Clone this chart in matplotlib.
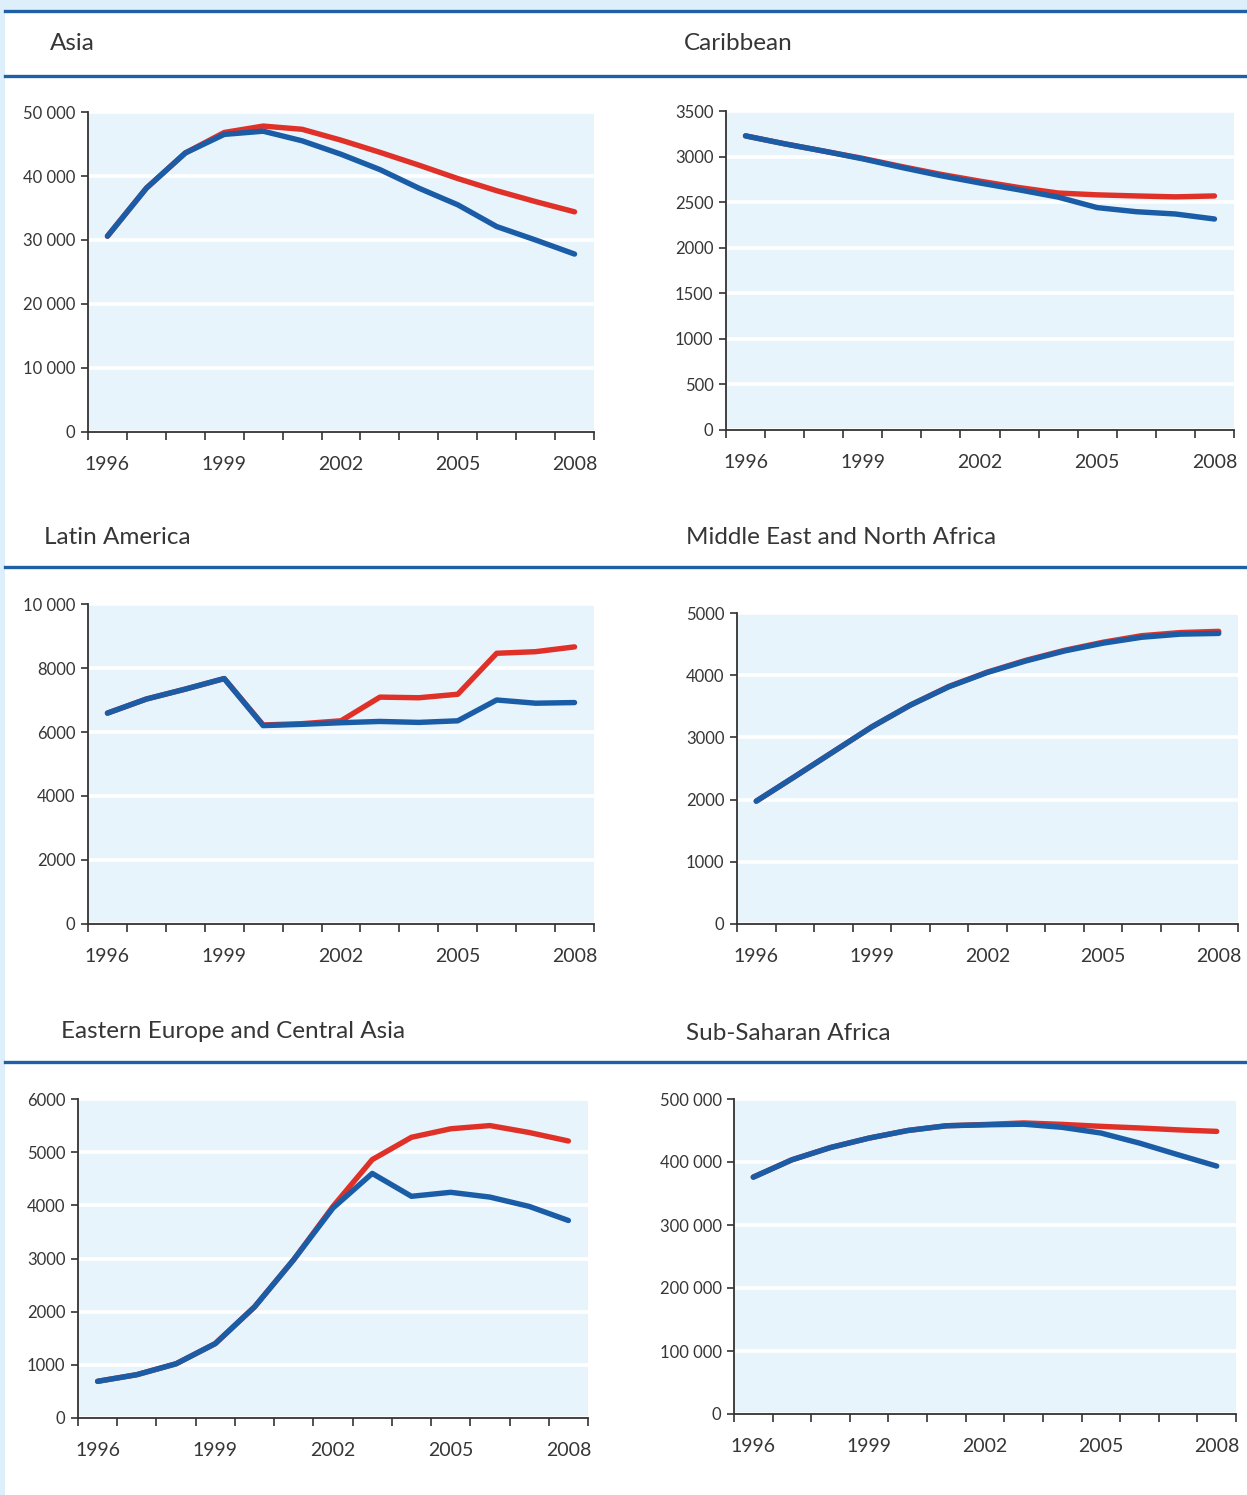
import matplotlib
matplotlib.use("Agg")
import matplotlib.pyplot as plt
from matplotlib.ticker import FuncFormatter
import numpy as np

plt.rcParams['font.family'] = ['Lato', 'DejaVu Sans']

years = list(range(1996, 2009))
year_labels = ["1996", "1999", "2002", "2005", "2008"]

# Values (blue = lower line, red = upper line)
asia_blue = [30600, 38100, 43600, 46500, 47000, 45500, 43400, 41000, 38100, 35500, 32100, 30000, 27800]
asia_red = [30600, 38100, 43600, 46800, 47800, 47300, 45600, 43700, 41700, 39600, 37700, 36000, 34400]

carib_blue = [3227, 3140, 3060, 2975, 2880, 2790, 2710, 2635, 2555, 2440, 2395, 2370, 2315]
carib_red = [3227, 3140, 3060, 2980, 2890, 2805, 2730, 2660, 2600, 2580, 2568, 2558, 2568]

latam_blue = [6590, 7030, 7340, 7670, 6200, 6240, 6290, 6330, 6300, 6350, 7000, 6900, 6920]
latam_red = [6590, 7030, 7340, 7670, 6220, 6260, 6350, 7090, 7070, 7180, 8460, 8510, 8660]

mena_blue = [1975, 2370, 2770, 3170, 3520, 3815, 4045, 4230, 4390, 4515, 4610, 4660, 4672]
mena_red = [1975, 2370, 2770, 3170, 3520, 3820, 4050, 4240, 4400, 4530, 4635, 4685, 4705]

eeca_blue = [690, 815, 1020, 1400, 2090, 2980, 3950, 4600, 4170, 4245, 4155, 3980, 3715]
eeca_red = [690, 815, 1020, 1400, 2090, 2980, 3980, 4860, 5280, 5440, 5500, 5370, 5210]

ssa_blue = [376000, 403500, 423000, 438000, 450000, 457500, 459000, 460000, 455000, 446000, 430000, 411500, 393500]
ssa_red = [376000, 403500, 423000, 438000, 450000, 457500, 459500, 462000, 459700, 456600, 454000, 451000, 448600]

W, H = 1247, 1495
BLUE = "#1a5da6"
RED = "#e03129"
RULE = "#1f5fa5"
PLOT_BG = "#e8f4fc"
OUTER_BG = "#ddeffb"
TXT = "#363636"

fig = plt.figure(figsize=(W / 100, H / 100), dpi=100)
fig.patch.set_facecolor(OUTER_BG)

# white page area behind everything
fig.patches.append(plt.Rectangle((5 / W, 0), 1, 1 - 12 / H, transform=fig.transFigure,
                                 facecolor="white", edgecolor="none", zorder=-10))


def rule(y):
    fig.add_artist(plt.Line2D([5 / W, 1], [1 - y / H, 1 - y / H], color=RULE, lw=2.4))


def title(x, y, text):
    fig.text(x / W, 1 - (y + 2) / H, text, fontsize=17.5, color=TXT, va="center", ha="left")


def fmt(v, pos):
    v = int(round(v))
    if v >= 10000:
        return f"{v:,}".replace(",", " ")
    return str(v)


def panel(box, blue, red, ymax, ystep):
    x0, y0, x1, y1 = box
    ax = fig.add_axes([x0 / W, 1 - y1 / H, (x1 - x0) / W, (y1 - y0) / H])
    ax.set_facecolor(PLOT_BG)
    xs = np.arange(len(years))
    ax.plot(xs, red, color=RED, lw=3.9, solid_capstyle="round", solid_joinstyle="round", zorder=3)
    ax.plot(xs, blue, color=BLUE, lw=3.9, solid_capstyle="round", solid_joinstyle="round", zorder=4)
    ax.set_xlim(-0.5, len(years) - 0.5)
    ax.set_ylim(0, ymax)
    ax.set_yticks(np.arange(0, ymax + ystep / 2, ystep))
    ax.yaxis.set_major_formatter(FuncFormatter(fmt))
    ax.grid(axis="y", color="white", lw=2.6)
    ax.set_axisbelow(True)
    # category boundaries as ticks, year labels centred on categories
    ax.set_xticks(np.arange(-0.5, len(years)))
    ax.set_xticklabels([])
    ax.set_xticks([years.index(int(y)) for y in year_labels], minor=True)
    ax.set_xticklabels(year_labels, minor=True)
    ax.tick_params(axis="x", which="major", direction="out", length=6, width=1.2, color="#333333")
    ax.tick_params(axis="x", which="minor", length=0, pad=17, labelsize=14, labelcolor=TXT)
    ax.tick_params(axis="y", direction="out", length=5, width=1.2, color="#333333",
                   labelsize=12, labelcolor=TXT, pad=4)
    for s in ("top", "right"):
        ax.spines[s].set_visible(False)
    for s in ("left", "bottom"):
        ax.spines[s].set_color("#333333")
        ax.spines[s].set_linewidth(1.3)
        ax.spines[s].set_zorder(5)
    return ax


# row 1
rule(10.5)
title(50, 42, "Asia")
title(684, 42, "Caribbean")
rule(76)
panel((88, 112, 594, 432), asia_blue, asia_red, 50000, 10000)
panel((726, 111, 1234, 430), carib_blue, carib_red, 3500, 500)

# row 2
title(44, 535, "Latin America")
title(686, 535, "Middle East and North Africa")
rule(567)
panel((88, 604, 594, 924), latam_blue, latam_red, 10000, 2000)
panel((737, 613, 1238, 924), mena_blue, mena_red, 5000, 1000)

# row 3
title(61, 1029, "Eastern Europe and Central Asia")
title(686, 1031, "Sub-Saharan Africa")
rule(1062)
panel((78, 1099, 588, 1418), eeca_blue, eeca_red, 6000, 1000)
panel((734, 1099, 1236, 1414), ssa_blue, ssa_red, 500000, 100000)

fig.savefig("out.png", dpi=100, facecolor=fig.get_facecolor())
